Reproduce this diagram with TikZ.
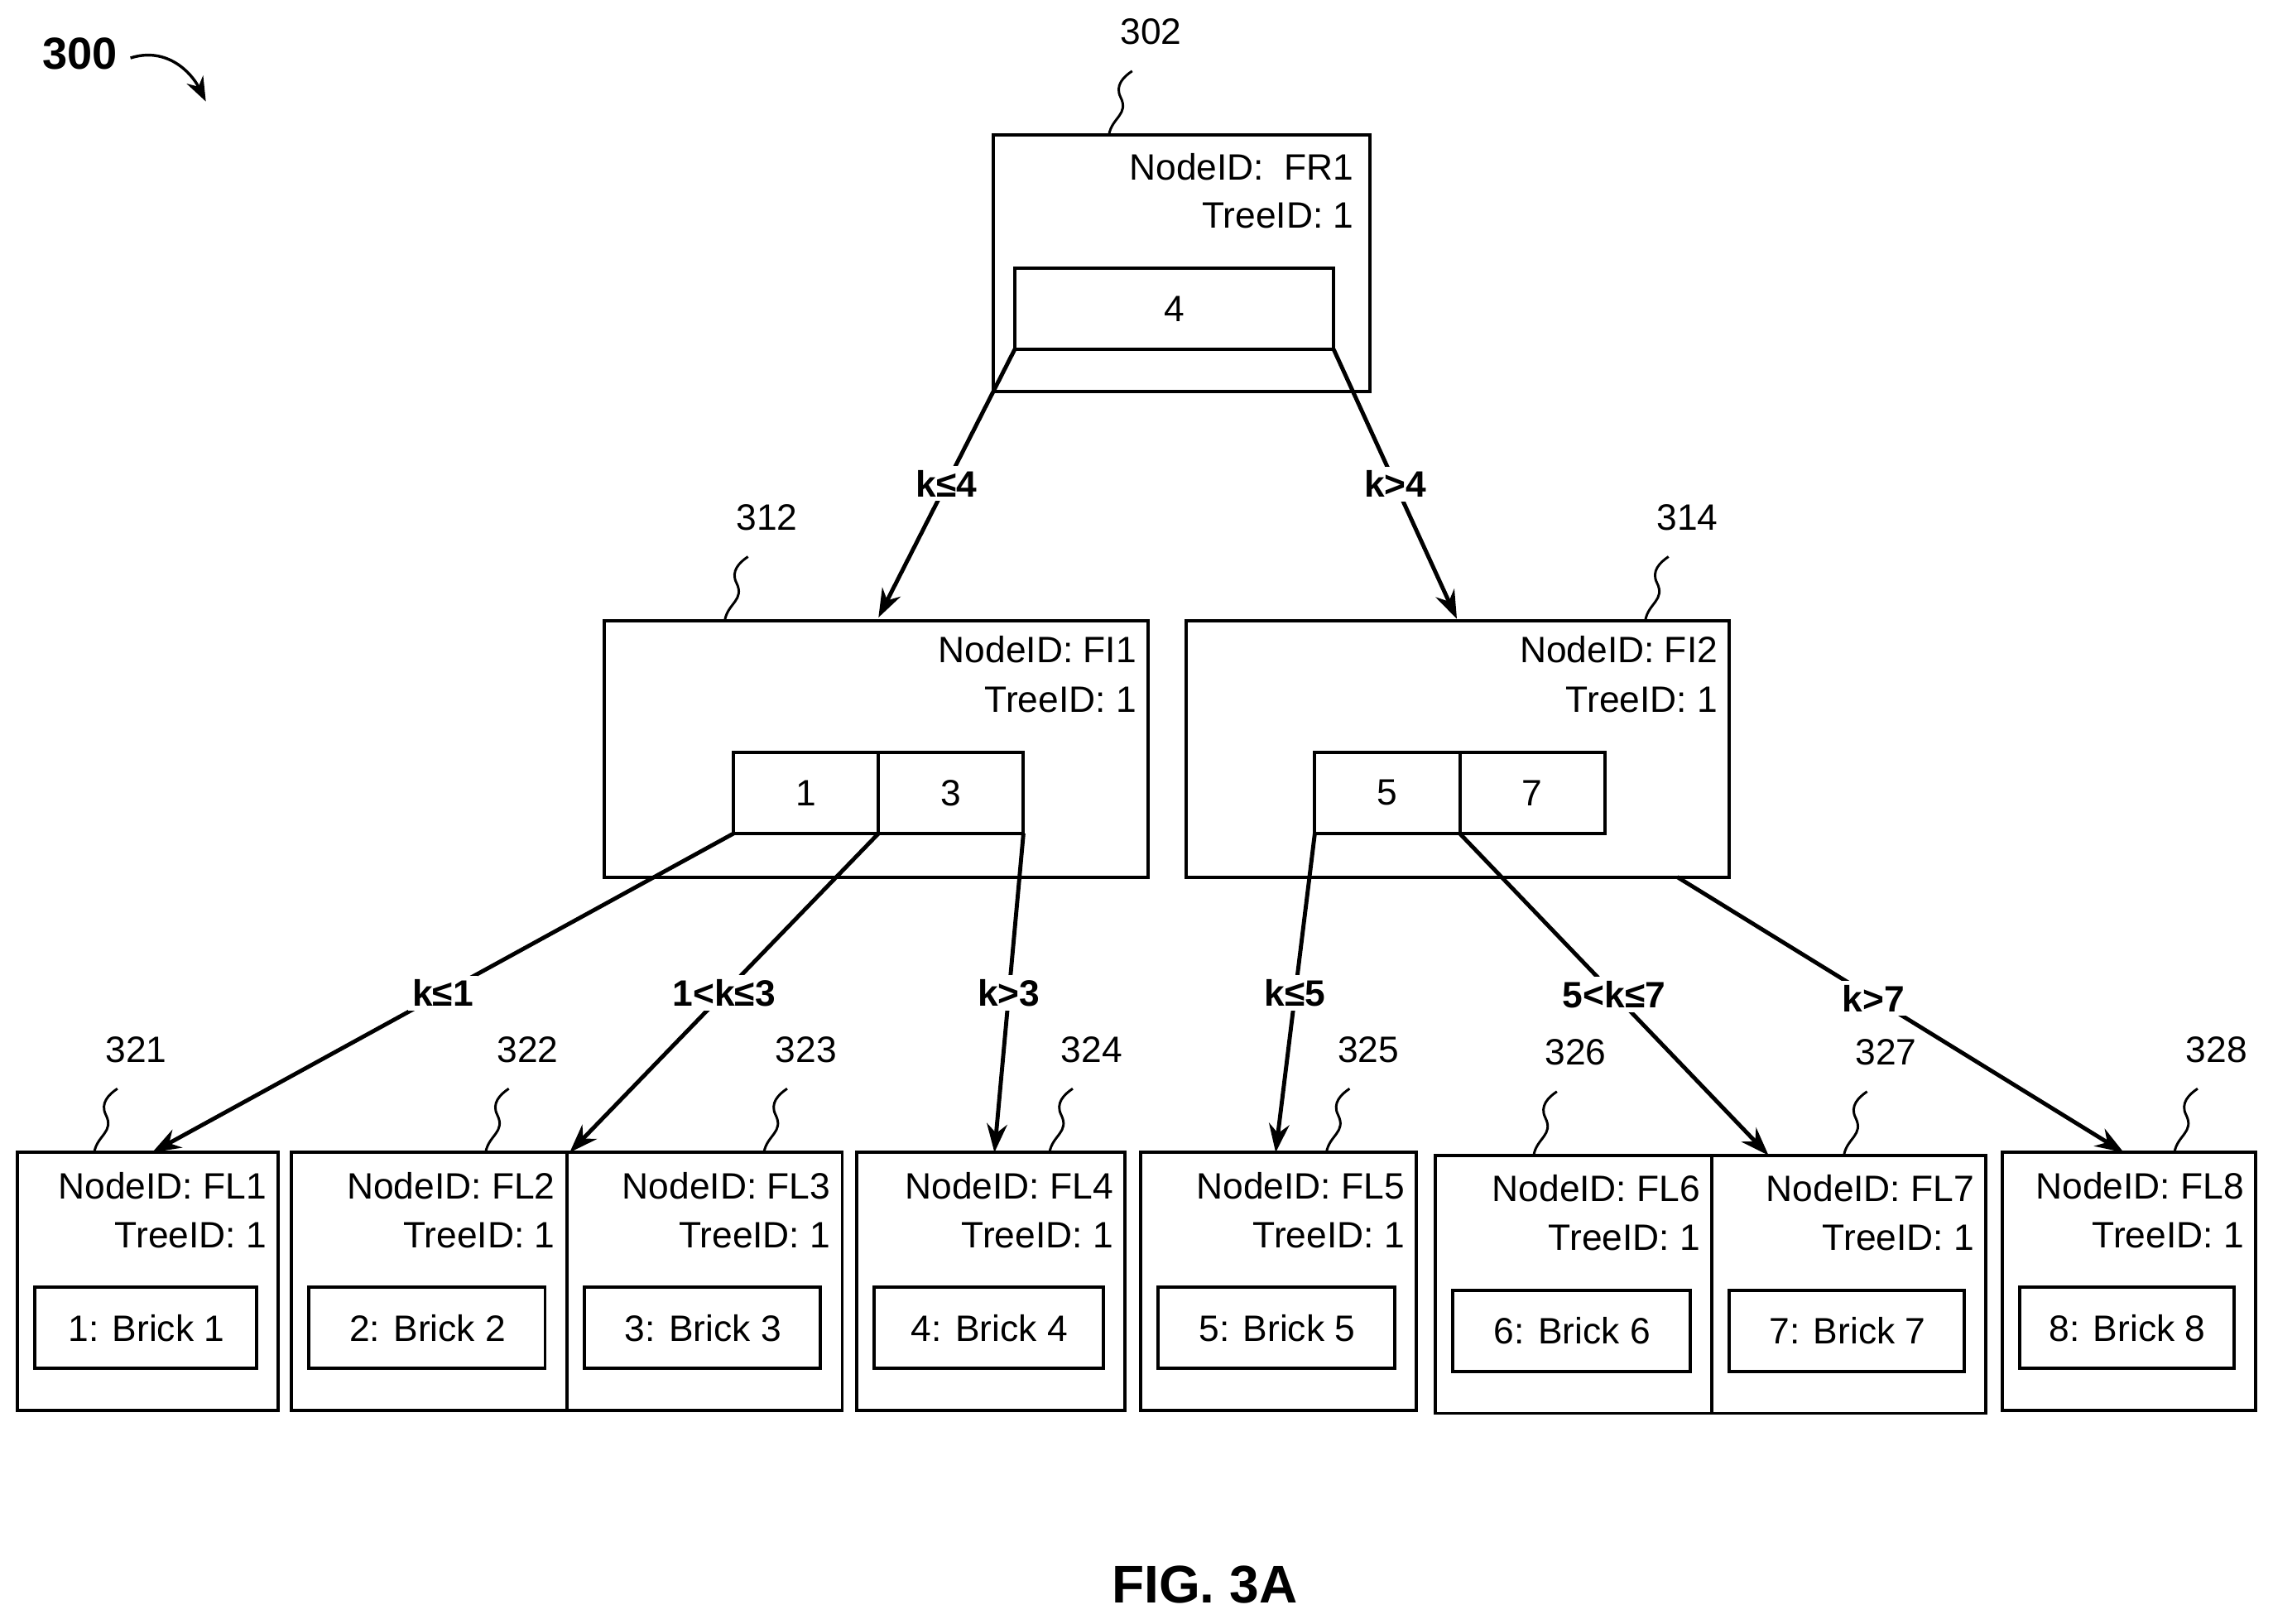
\documentclass[tikz,border=0pt]{standalone}
\usepackage{fontspec}
\setmainfont{Liberation Sans}
\usetikzlibrary{arrows.meta}
\begin{document}
\begin{tikzpicture}[x=0.025cm,y=-0.025cm,line width=1.6pt,
    box/.style={draw,line width=1.6pt},
    txt/.style={font=\fontsize{18}{20}\selectfont,anchor=east,inner sep=0pt},
    num/.style={font=\fontsize{18}{20}\selectfont,inner sep=0pt},
    lbl/.style={font=\fontsize{18}{20}\selectfont\bfseries,fill=white,inner sep=2pt},
    arr/.style={-{Stealth[length=14pt,width=10pt]},line width=2pt},
    lead/.style={line width=1.2pt}]
  \useasboundingbox (0,0) rectangle (1568,1120);
  % root
  \draw[box] (685,93) rectangle (945,270);
  \node[txt] (fr1) at (935,115) {NodeID:~~FR1};
  \node[txt] at (935,149) {TreeID: 1};
  \draw[box] (700,185) rectangle (920,241);
  \node[num] (k4) at (810,213) {4};
  \coordinate (rl) at (700,241); \coordinate (rr) at (920,241);
  % intermediate nodes
  \foreach \x/\id/\a/\b/\n in {417/FI1/1/3/1,818/FI2/5/7/2} {
    \draw[box] (\x,428) rectangle ++(375,177);
    \node[txt] at (\x+368,448) {NodeID: \id};
    \node[txt] at (\x+368,483) {TreeID: 1};
    \draw[box] (\x+89,519) rectangle ++(100,56);
    \draw[box] (\x+189,519) rectangle ++(100,56);
    \node[num] at (\x+139,547) {\a};
    \node[num] at (\x+239,547) {\b};
    \coordinate (i\n a) at (\x+89,575);
    \coordinate (i\n b) at (\x+189,575);
    \coordinate (i\n c) at (\x+289,575);
    \coordinate (i\n t) at (\x+189,428);
  }
  \coordinate (i2e) at (1157,605);
  % leaves
  \foreach \l/\r/\t/\n in {12/192/795/1,201/391/795/2,391/581/795/3,591/776/795/4,
      787/977/795/5,990/1181/797/6,1181/1370/797/7,1381/1556/795/8} {
    \draw[box] (\l,\t) rectangle (\r,\t+178);
    \node[txt] at (\r-7,\t+23) {NodeID: FL\n};
    \node[txt] at (\r-7,\t+57) {TreeID: 1};
    \draw[box] (\l+12,\t+93) rectangle (\r-15,\t+149);
    \node[num] (b\n) at ({(\l+\r)/2-1},\t+121) {\n: Brick \n};
  }
  \coordinate (f1) at (105,795); \coordinate (f2) at (393,795);
  \coordinate (f4) at (686,795); \coordinate (f5) at (880,795);
  \coordinate (f7) at (1220,797); \coordinate (f8) at (1465,795);
  \coordinate (m1) at (606,426); \coordinate (m2) at (1005,427);
  % connectors
  \draw[arr] (rl) -- node[lbl,pos=0.5] {k≤4} (m1);
  \draw[arr] (rr) -- node[lbl,pos=0.5] {k>4} (m2);
  \draw[arr] (i1a) -- node[lbl,pos=0.5] {k≤1} (f1);
  \draw[arr] (i1b) -- node[lbl,pos=0.5] {1<k≤3} (f2);
  \draw[arr] (i1c) -- node[lbl,pos=0.5] {k>3} (f4);
  \draw[arr] (i2a) -- node[lbl,pos=0.5] {k≤5} (f5);
  \draw[arr] (i2b) -- node[lbl,pos=0.5] {5<k≤7} (f7);
  \draw[arr] (i2e) -- node[lbl,pos=0.44] {k>7} (f8);
  % reference numerals
  \foreach \x/\y/\t in {765/93/302,500/428/312,1135/428/314,65/795/321,335/795/322,
      527/795/323,724/795/324,915/795/325,1058/797/326,1272/797/327,1500/795/328} {
    \draw[lead] (\x,\y) .. controls (\x+2,\y-12) and (\x+14,\y-14) .. (\x+8,\y-26)
      .. controls (\x+4,\y-34) and (\x+10,\y-40) .. (\x+16,\y-44);
    \node[num] at (\x+29,\y-71) {\t};
  }
  \node[font=\fontsize{22}{24}\selectfont\bfseries] (n300) at (55,37) {300};
  \draw[-{Stealth[length=12pt,width=9pt]},line width=1.4pt] (90,40) .. controls (115,32) and (132,50) .. (142,70);
  \node[font=\fontsize{26}{28}\selectfont\bfseries] (fig) at (831,1093) {FIG. 3A};
\end{tikzpicture}
\end{document}
